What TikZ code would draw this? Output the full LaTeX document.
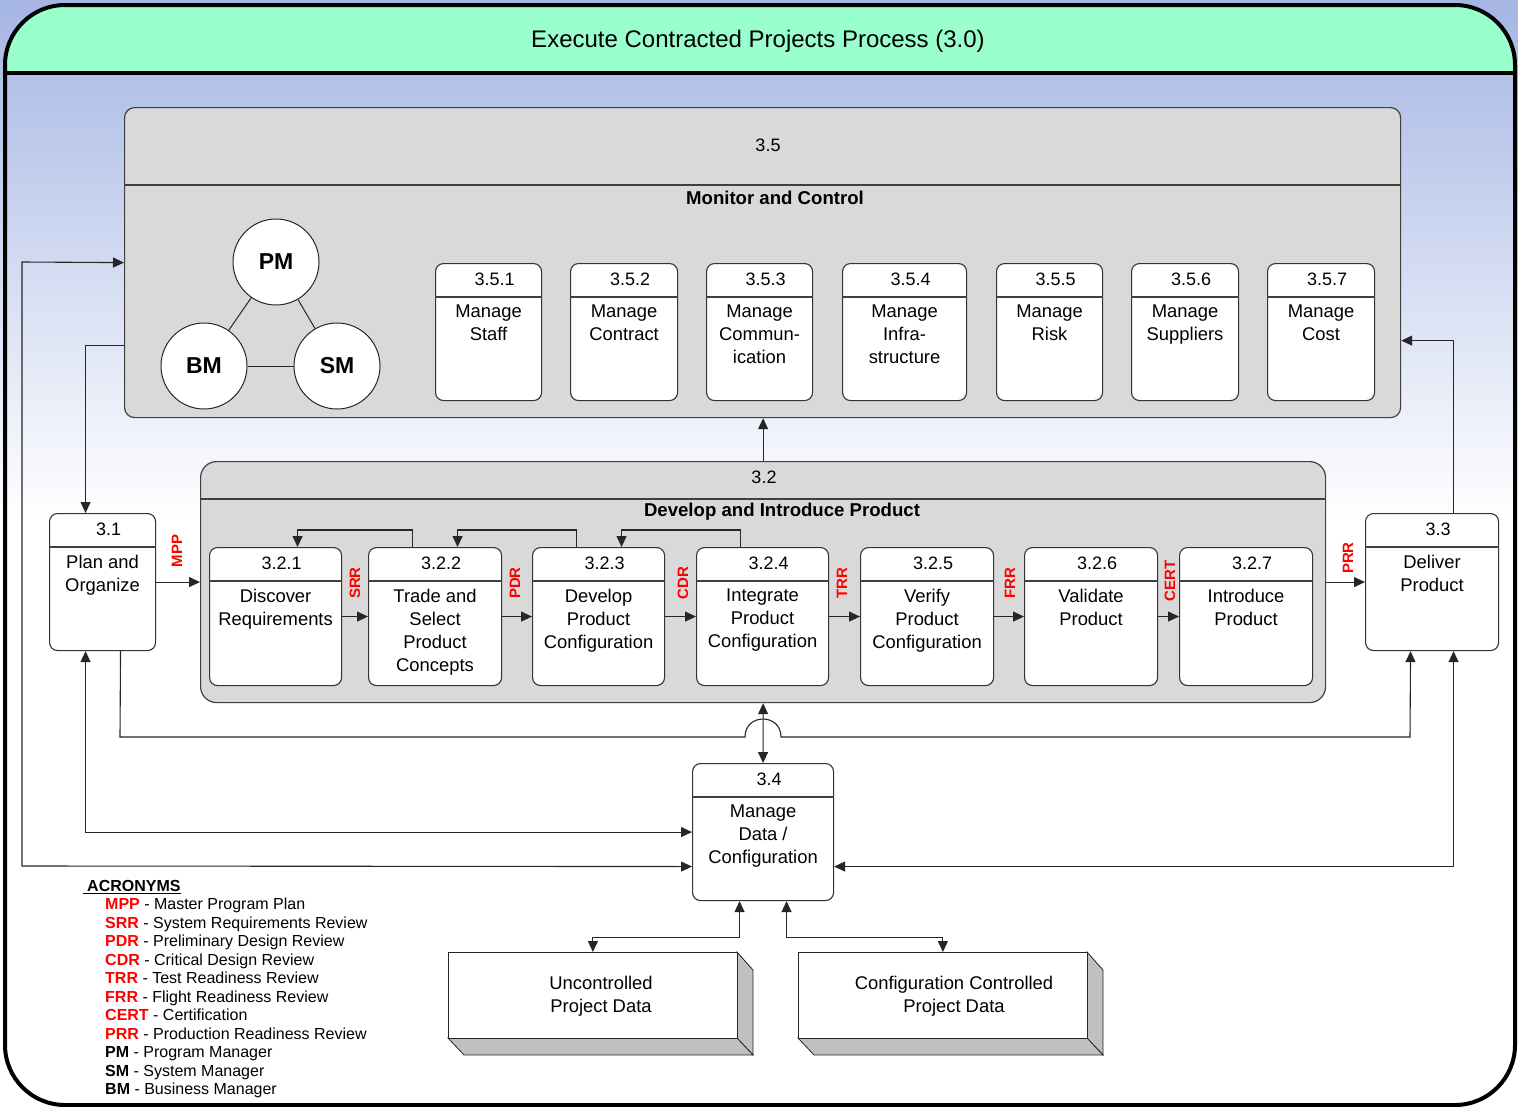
\documentclass[tikz,border=0pt]{standalone}
\usepackage{fontspec}
\setmainfont{Liberation Sans}
\usetikzlibrary{arrows.meta,calc}
\definecolor{titlegreen}{RGB}{153,255,204}
\definecolor{boxgray}{RGB}{217,217,217}
\definecolor{sidegray}{RGB}{192,192,192}
\definecolor{skyblue}{RGB}{165,182,228}
\definecolor{revred}{RGB}{255,0,0}
\newcommand\procbox[7]{%
  \node[pbx, minimum width={#4-#2}, minimum height={#5-#3}, anchor=north west] (#1) at (#2,#3) {};
  \draw[divline] ([yshift=-34pt]#1.north west) -- ([yshift=-34pt]#1.north east);
  \node[numtxt] (#1n) at ([xshift=6pt,yshift=-16.5pt]#1.north) {#6};
  \node[bodytxt, anchor=north] (#1t) at ([yshift=-41.5pt]#1.north) {#7};
}
\begin{document}
\begin{tikzpicture}[x=1pt,y=-1pt,
  pbx/.style={draw=black!80, fill=white, rounded corners=8pt, line width=1.1pt, inner sep=0pt},
  bigbox/.style={draw=black!75, fill=boxgray, line width=1.2pt, inner sep=0pt},
  divline/.style={draw=black!75, line width=1.1pt},
  numtxt/.style={font=\fontsize{18}{23}\selectfont, inner sep=0pt},
  bodytxt/.style={font=\fontsize{18.4}{23}\selectfont, align=center, inner sep=0pt},
  headb/.style={font=\fontsize{18.6}{22}\selectfont\bfseries, inner sep=0pt},
  revlbl/.style={font=\fontsize{15}{17}\selectfont\bfseries, text=revred, rotate=90, inner sep=0pt},
  circ/.style={circle, draw=black!85, fill=white, line width=1pt, minimum size=86pt, inner sep=0pt, font=\fontsize{23}{26}\selectfont\bfseries},
  acr/.style={font=\fontsize{16}{18}\selectfont, inner sep=0pt, anchor=base west},
  conn/.style={draw=black!85, line width=1.1pt},
  arr/.style={conn, -{Triangle[length=11pt,width=10pt]}},
  arrb/.style={conn, {Triangle[length=11pt,width=10pt]}-{Triangle[length=11pt,width=10pt]}}
]
\useasboundingbox (0,0) rectangle (1518,1106);
% background
\fill[white] (0,0) rectangle (1518,1106);
\shade[top color=skyblue, bottom color=white] (0,0) rectangle (1518,520);
% title bar
\fill[titlegreen, rounded corners=60pt] (5,73) -- (5,5) -- (1515,5) -- (1515,73);
\draw[line width=4pt, rounded corners=60pt] (5,5) rectangle (1515,1105);
\draw[line width=4pt] (5,73) -- (1515,73);
\node[font=\fontsize{24}{28}\selectfont, inner sep=0pt] (title) at (758,41) {Execute Contracted Projects Process (3.0)};

% ---- 3.5 Monitor and Control
\node[bigbox, rounded corners=10pt, minimum width=1276, minimum height=310, anchor=north west] (p35) at (124,107) {};
\draw[divline] ([yshift=-78pt]p35.north west) -- ([yshift=-78pt]p35.north east);
\node[numtxt] (p35n) at (768,145) {3.5};
\node[headb] (p35t) at (775,198) {Monitor and Control};

\node[circ] (pm) at (276,262) {PM};
\node[circ] (bm) at (204,366) {BM};
\node[circ] (sm) at (337,366) {SM};
\draw[conn, line width=1pt] (pm) -- (bm);
\draw[conn, line width=1pt] (pm) -- (sm);
\draw[conn, line width=1pt] (bm) -- (sm);

\procbox{p351}{435}{263}{541}{400}{3.5.1}{Manage\\Staff}
\procbox{p352}{570}{263}{677}{400}{3.5.2}{Manage\\Contract}
\procbox{p353}{706}{263}{812}{400}{3.5.3}{Manage\\Commun-\\ication}
\procbox{p354}{842}{263}{966}{400}{3.5.4}{Manage\\Infra-\\structure}
\procbox{p355}{996}{263}{1102}{400}{3.5.5}{Manage\\Risk}
\procbox{p356}{1131}{263}{1238}{400}{3.5.6}{Manage\\Suppliers}
\procbox{p357}{1267}{263}{1374}{400}{3.5.7}{Manage\\Cost}

% ---- 3.2 Develop and Introduce Product
\node[bigbox, rounded corners=16pt, minimum width=1125, minimum height=241, anchor=north west] (p32) at (200,461) {};
\draw[divline] ([yshift=-38pt]p32.north west) -- ([yshift=-38pt]p32.north east);
\node[numtxt] (p32n) at (764,477) {3.2};
\node[headb] (p32t) at (782,512) {Develop and Introduce Product};

\procbox{p321}{209}{547}{341}{685}{3.2.1}{Discover\\Requirements}
\procbox{p322}{368}{547}{501}{685}{3.2.2}{Trade and\\Select\\Product\\Concepts}
\procbox{p323}{532}{547}{664}{685}{3.2.3}{Develop\\Product\\Configuration}
\procbox{p324}{696}{547}{828}{685}{3.2.4}{Integrate\\Product\\Configuration}
\procbox{p325}{860}{547}{993}{685}{3.2.5}{Verify\\Product\\Configuration}
\procbox{p326}{1024}{547}{1157}{685}{3.2.6}{Validate\\Product}
\procbox{p327}{1179}{547}{1312}{685}{3.2.7}{Introduce\\Product}

\draw[arr] (p321.east) -- (p322.west);
\draw[arr] (p322.east) -- (p323.west);
\draw[arr] (p323.east) -- (p324.west);
\draw[arr] (p324.east) -- (p325.west);
\draw[arr] (p325.east) -- (p326.west);
\draw[arr] (p326.east) -- (p327.west);

\draw[arr] ([xshift=-22.5pt]p322.north) -- ++(0,-17) -| ([xshift=22pt]p321.north);
\draw[arr] ([xshift=-22pt]p323.north) -- ++(0,-17) -| ([xshift=22.5pt]p322.north);
\draw[arr] ([xshift=-22pt]p324.north) -- ++(0,-17) -| ([xshift=23pt]p323.north);

\node[revlbl] (lsrr) at (355,583) {SRR};
\node[revlbl] (lpdr) at (515,583) {PDR};
\node[revlbl] (lcdr) at (683,583) {CDR};
\node[revlbl] (ltrr) at (842,583) {TRR};
\node[revlbl] (lfrr) at (1010,583) {FRR};
\node[revlbl] (lcert) at (1170,581) {CERT};

% ---- 3.1, 3.3, 3.4
\procbox{p31}{49}{513}{155}{650}{3.1}{Plan and\\Organize}
\procbox{p33}{1365}{513}{1498}{650}{3.3}{Deliver\\Product}
\procbox{p34}{692}{763}{833}{900}{3.4}{Manage\\Data /\\Configuration}

\draw[arr] (p31.east) -- (p31.east -| p32.west);
\node[revlbl] (lmpp) at (177,551) {MPP};
\draw[arr] (p32.east |- p33.west) -- (p33.west);
\node[revlbl] (lprr) at (1348,558) {PRR};

% ---- connectors
\draw[arr] ([yshift=-83pt]p35.west) -| ([xshift=-17pt]p31.north);
\draw[arrb] (p35.west) -- (22,262) -- (22,866) -- ([yshift=-34.5pt]p34.west);
\draw[arrb] ([xshift=-17pt]p31.south) |- (p34.west);
\draw[arr] ([xshift=18pt]p31.south) -- (120,737) -- (745,737) .. controls (745,713) and (781,713) .. (781,737) -- (1410,737) -- ([xshift=-21.5pt]p33.south);
\draw[arrb] (p32.south) -- (p34.north);
\draw[arr] (p32.north) -- (p32.north |- p35.south);
\draw[arr] ([xshift=21.5pt]p33.north) |- ([yshift=-78pt]p35.east);
\draw[arrb] ([yshift=-34.5pt]p34.east) -| ([xshift=21.5pt]p33.south);

% ---- data stores
\filldraw[fill=sidegray, draw=black!85, line width=0.8pt] (737,952) -- (753,970) -- (753,1055) -- (737,1038) -- cycle;
\filldraw[fill=sidegray, draw=black!85, line width=0.8pt] (448,1038) -- (464,1055) -- (753,1055) -- (737,1038) -- cycle;
\node[draw=black!85, fill=white, line width=0.8pt, minimum width=289, minimum height=86, anchor=north west, inner sep=0pt] (ucd) at (448,952) {};
\node[bodytxt] (ucdt) at (601,996.5) {Uncontrolled\\Project Data};

\filldraw[fill=sidegray, draw=black!85, line width=0.8pt] (1087,952) -- (1103,970) -- (1103,1055) -- (1087,1038) -- cycle;
\filldraw[fill=sidegray, draw=black!85, line width=0.8pt] (798,1038) -- (814,1055) -- (1103,1055) -- (1087,1038) -- cycle;
\node[draw=black!85, fill=white, line width=0.8pt, minimum width=289, minimum height=86, anchor=north west, inner sep=0pt] (ccd) at (798,952) {};
\node[bodytxt] (ccdt) at (954,996.5) {Configuration Controlled\\Project Data};

\draw[arrb] ([xshift=-23.5pt]p34.south) -- ++(0,36) -| (ucd.north);
\draw[arrb] ([xshift=23.5pt]p34.south) -- ++(0,36) -| (ccd.north);

% ---- acronyms
\node[acr] (acrh) at (87,891.5) {\bfseries ACRONYMS};
\draw[line width=1pt] ([xshift=-4pt,yshift=-2pt]acrh.base west) -- ([yshift=-2pt]acrh.base east);
\node[acr] (a1) at (105,909.5) {\textcolor{revred}{\bfseries MPP} - Master Program Plan};
\node[acr] (a2) at (105,928) {\textcolor{revred}{\bfseries SRR} - System Requirements Review};
\node[acr] (a3) at (105,946.5) {\textcolor{revred}{\bfseries PDR} - Preliminary Design Review};
\node[acr] (a4) at (105,965) {\textcolor{revred}{\bfseries CDR} - Critical Design Review};
\node[acr] (a5) at (105,983.5) {\textcolor{revred}{\bfseries TRR} - Test Readiness Review};
\node[acr] (a6) at (105,1002) {\textcolor{revred}{\bfseries FRR} - Flight Readiness Review};
\node[acr] (a7) at (105,1020.5) {\textcolor{revred}{\bfseries CERT} - Certification};
\node[acr] (a8) at (105,1039) {\textcolor{revred}{\bfseries PRR} - Production Readiness Review};
\node[acr] (a9) at (105,1057.5) {{\bfseries PM} - Program Manager};
\node[acr] (a10) at (105,1076) {{\bfseries SM} - System Manager};
\node[acr] (a11) at (105,1094.5) {{\bfseries BM} - Business Manager};
\end{tikzpicture}
\end{document}
